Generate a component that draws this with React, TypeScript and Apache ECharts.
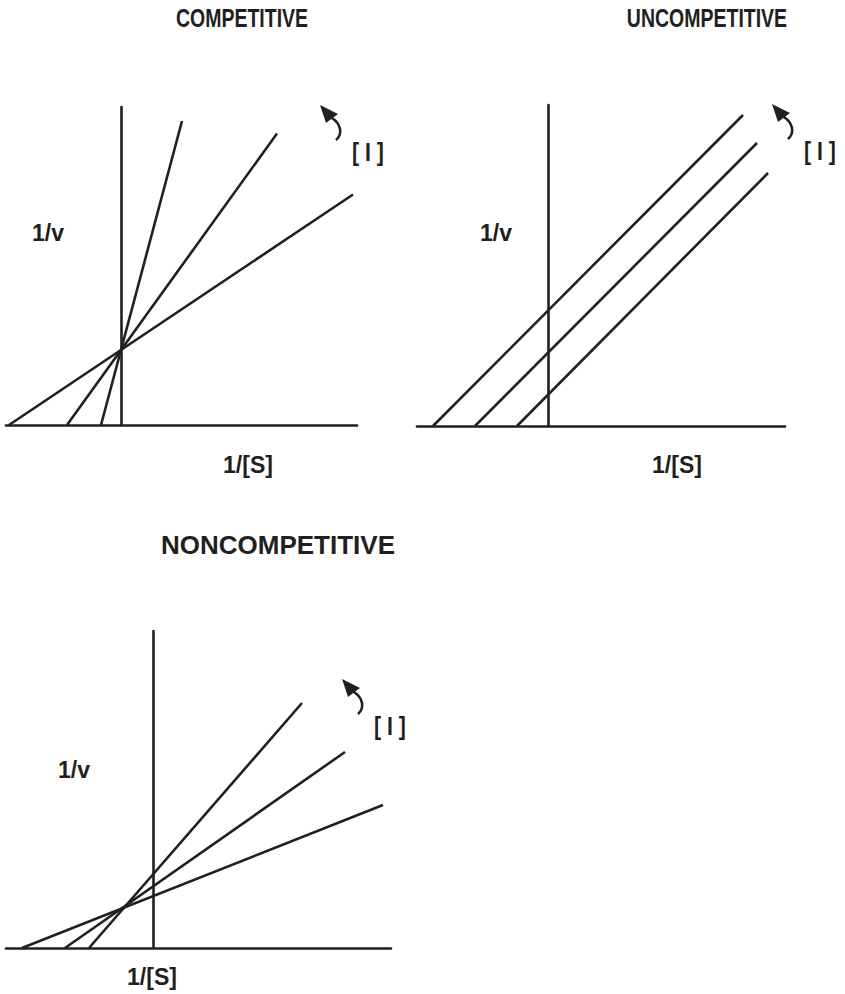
import React, { useEffect, useRef } from "react";
import * as echarts from "echarts";

// ---- data (x = 1/[S], y = 1/v, arbitrary units) ----
const competitiveShallow = [[-2.24, 0], [4.64, 4.61]];
const competitiveMiddle = [[-1.08, 0], [3.12, 5.83]];
const competitiveSteep = [[-0.4, 0], [1.22, 6.08]];

const uncompetitiveLow = [[-2.3, 0], [3.9, 6.22]];
const uncompetitiveMid = [[-1.46, 0], [4.18, 5.66]];
const uncompetitiveHigh = [[-0.62, 0], [4.4, 5.06]];

const noncompetitiveShallow = [[-2.62, 0], [4.6, 2.86]];
const noncompetitiveMiddle = [[-1.76, 0], [3.84, 3.92]];
const noncompetitiveSteep = [[-1.28, 0], [2.98, 4.9]];

const panelTitles = ["COMPETITIVE", "UNCOMPETITIVE", "NONCOMPETITIVE"];
const xAxisRanges = [[-2.3, 4.72], [-2.62, 4.74], [-2.94, 4.76]];
const yAxisMax = [6.36, 6.42, 6.34];

const INK = "#231f20";
const FONT = '"Liberation Sans", Arial, Helvetica, sans-serif';

export default function App() {
  const ref = useRef<HTMLDivElement>(null);

  useEffect(() => {
    if (!ref.current) return;
    const chart = echarts.init(ref.current, null, { renderer: "svg" });

    // grid geometry (px); 50 px per unit
    const grids = [
      { left: 6, top: 425 - 6.36 * 50, width: 7.02 * 50, height: 6.36 * 50 },
      { left: 417, top: 426 - 6.42 * 50, width: 7.36 * 50, height: 6.42 * 50 },
      { left: 6, top: 948 - 6.34 * 50, width: 7.7 * 50, height: 6.34 * 50 },
    ];

    const axisLine = { show: true, onZero: true, lineStyle: { color: INK, width: 2.6 } };
    const xAxis = xAxisRanges.map((r, i) => ({
      type: "value",
      gridIndex: i,
      min: r[0],
      max: r[1],
      axisLine,
      axisTick: { show: false },
      axisLabel: { show: false },
      splitLine: { show: false },
    }));
    const yAxis = yAxisMax.map((m, i) => ({
      type: "value",
      gridIndex: i,
      min: 0,
      max: m,
      axisLine,
      axisTick: { show: false },
      axisLabel: { show: false },
      splitLine: { show: false },
    }));

    const groups = [
      [competitiveShallow, competitiveMiddle, competitiveSteep],
      [uncompetitiveLow, uncompetitiveMid, uncompetitiveHigh],
      [noncompetitiveShallow, noncompetitiveMiddle, noncompetitiveSteep],
    ];
    const series: any[] = [];
    groups.forEach((g, i) =>
      g.forEach((d) =>
        series.push({
          type: "line",
          xAxisIndex: i,
          yAxisIndex: i,
          data: d,
          symbol: "none",
          clip: false,
          silent: true,
          lineStyle: { color: INK, width: 2.6, cap: "butt" },
        })
      )
    );

    const label = (text: string, x: number, y: number, size = 23, scaleX = 1) => ({
      type: "text",
      x,
      y,
      scaleX,
      silent: true,
      style: {
        text,
        x: 0,
        y: 0,
        font: `bold ${size}px ${FONT}`,
        fill: INK,
        align: "center",
        verticalAlign: "middle",
        textAlign: "center",
        textVerticalAlign: "middle",
      },
    });

    const arrow = (tx: number, ty: number) => ({
      type: "group",
      x: tx,
      y: ty,
      silent: true,
      children: [
        {
          type: "polygon",
          shape: { points: [[0, 0], [6, 18], [18, 9]] },
          style: { fill: INK },
        },
        {
          type: "bezierCurve",
          shape: { x1: 12, y1: 13, cpx1: 21, cpy1: 19, cpx2: 23, cpy2: 29, x2: 16, y2: 35 },
          style: { stroke: INK, lineWidth: 2.6, fill: "none" },
        },
      ],
    });

    const arrowTips = [[320, 105], [772, 104], [342, 679]];

    const graphic: any[] = [
      label(panelTitles[0], 242, 18, 26, 0.75),
      label(panelTitles[1], 707, 18, 26, 0.75),
      label(panelTitles[2], 278, 545, 26, 1),
      label("1/v", 48, 233),
      label("1/[S]", 248, 465),
      label("1/v", 496, 233),
      label("1/[S]", 677, 465),
      label("1/v", 74, 770),
      label("1/[S]", 152, 977),
    ];
    arrowTips.forEach(([x, y]) => {
      graphic.push(arrow(x, y));
      graphic.push(label("[ I ]", x + 48, y + 47, 25, 0.85));
    });

    chart.setOption({
      animation: false,
      backgroundColor: "#ffffff",
      grid: grids.map((g) => ({ ...g, containLabel: false, outerBoundsMode: "none" })),
      xAxis,
      yAxis,
      series,
      graphic,
    });

    return () => chart.dispose();
  }, []);

  return (
    <div
      ref={ref}
      style={{ position: "absolute", left: 0, top: 0, width: 845, height: 994 }}
    />
  );
}
